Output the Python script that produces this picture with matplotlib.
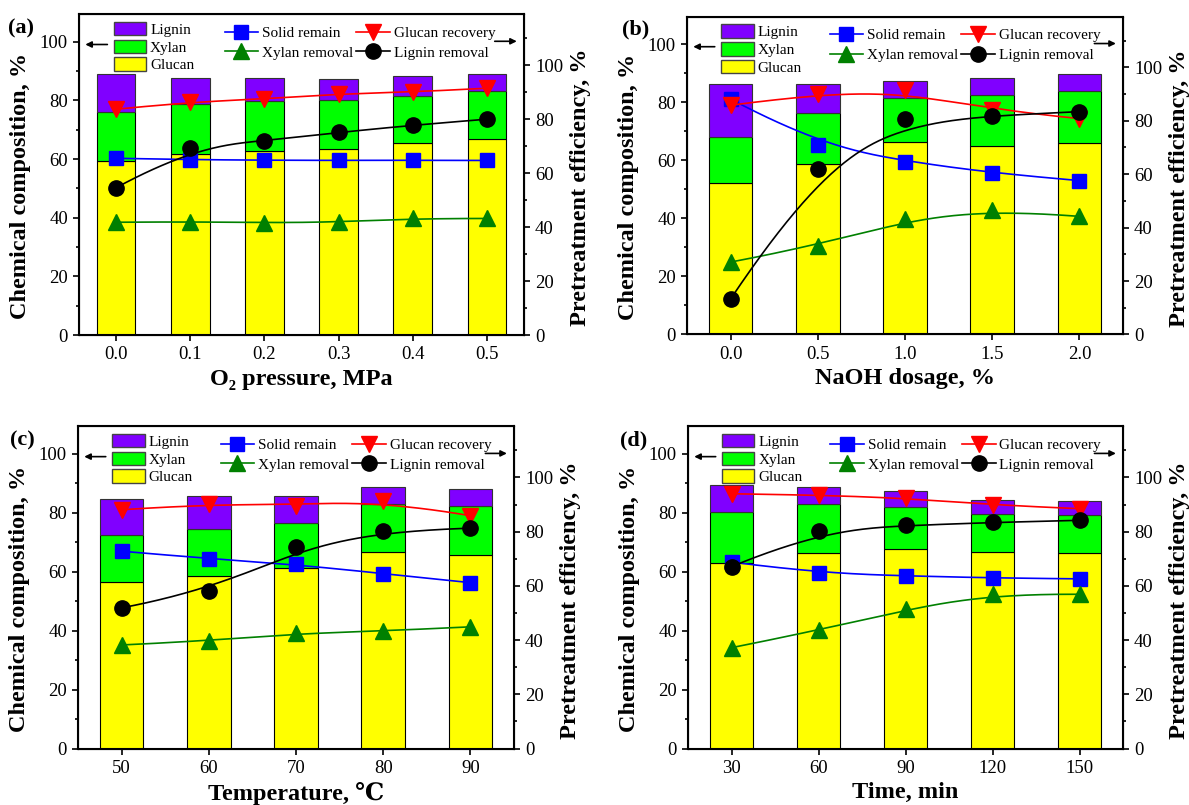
import numpy as np
import matplotlib.pyplot as plt
from matplotlib.lines import Line2D
from matplotlib.patches import Patch
from matplotlib.ticker import AutoMinorLocator

plt.rcParams['font.family'] = ['Liberation Serif', 'DejaVu Serif', 'DejaVu Sans']

# ---- data ----
# (a) O2 pressure
a_ticks = ['0.0', '0.1', '0.2', '0.3', '0.4', '0.5']
a_glucan = [59.4, 61.9, 62.6, 63.3, 65.4, 66.7]
a_xylan = [16.7, 16.9, 17.1, 16.9, 16.2, 16.6]
a_lignin = [12.9, 8.9, 8.0, 7.1, 6.6, 5.7]
a_solid = [65.5, 65.0, 64.8, 64.7, 64.8, 64.7]
a_glu_rec = [83.7, 86.4, 87.4, 89.5, 90.0, 91.5]
a_xyl_rem = [41.8, 42.0, 41.6, 41.8, 43.2, 43.2]
a_lig_rem = [54.6, 69.4, 72.0, 75.1, 77.8, 80.0]

# (b) NaOH dosage
b_ticks = ['0.0', '0.5', '1.0', '1.5', '2.0']
b_glucan = [52.3, 58.6, 66.3, 64.8, 65.9]
b_xylan = [15.6, 17.5, 15.2, 17.7, 18.1]
b_lignin = [18.5, 10.3, 5.9, 5.9, 5.7]
b_solid = [88.1, 70.9, 64.7, 60.4, 57.6]
b_glu_rec = [85.8, 90.0, 91.6, 84.0, 80.8]
b_xyl_rem = [27.1, 33.3, 43.3, 46.7, 44.2]
b_lig_rem = [13.3, 61.9, 80.6, 81.8, 83.4]

# (c) temperature
c_ticks = ['50', '60', '70', '80', '90']
c_glucan = [56.5, 58.5, 61.2, 66.6, 65.7]
c_xylan = [16.0, 16.1, 15.5, 16.4, 16.8]
c_lignin = [12.3, 11.1, 9.0, 5.7, 5.7]
c_solid = [72.8, 70.0, 68.1, 64.5, 61.2]
c_glu_rec = [88.1, 90.2, 89.6, 91.4, 85.9]
c_xyl_rem = [38.2, 39.7, 42.7, 43.3, 44.9]
c_lig_rem = [51.9, 58.0, 74.3, 80.2, 81.3]

# (d) time
d_ticks = ['30', '60', '90', '120', '150']
d_glucan = [63.1, 66.5, 67.8, 66.7, 66.4]
d_xylan = [17.2, 16.4, 14.3, 12.8, 13.0]
d_lignin = [9.0, 5.8, 5.4, 4.9, 4.8]
d_solid = [68.8, 64.7, 63.7, 62.9, 62.6]
d_glu_rec = [94.0, 93.5, 92.6, 89.8, 88.5]
d_xyl_rem = [37.2, 43.6, 51.4, 57.1, 56.9]
d_lig_rem = [67.1, 80.3, 82.4, 83.4, 84.2]


def bspline(xs, ys, k=3, n=200):
    # clamped cubic B-spline with the points as control polygon (like Origin's B-spline line)
    xs = np.asarray(xs, float)
    ys = np.asarray(ys, float)
    m = len(xs)
    knots = np.r_[np.zeros(k), np.linspace(0, 1, m - k + 1), np.ones(k)]
    t = np.linspace(0, 1, n)
    B = np.zeros((n, len(knots) - 1))
    for i in range(len(knots) - 1):
        B[:, i] = (t >= knots[i]) & (t < knots[i + 1])
    B[t >= 1, m - 1] = 1
    for d in range(1, k + 1):
        Bn = np.zeros((n, len(knots) - 1 - d))
        for i in range(len(knots) - 1 - d):
            left = knots[i + d] - knots[i]
            right = knots[i + d + 1] - knots[i + 1]
            term = np.zeros(n)
            if left > 0:
                term += (t - knots[i]) / left * B[:, i]
            if right > 0:
                term += (knots[i + d + 1] - t) / right * B[:, i + 1]
            Bn[:, i] = term
        B = Bn
    return B @ xs, B @ ys


W, H = 1189, 805


def box(l, r, t, b):
    return [l / W, 1 - b / H, (r - l) / W, (b - t) / H]


series_style = [
    ('Solid remain', 'blue', 's', 10),
    ('Xylan removal', 'green', '^', 12),
    ('Glucan recovery', 'red', 'v', 12),
    ('Lignin removal', 'black', 'o', 11),
]


def draw_panel(pos, ticks, glucan, xylan, lignin, solid, xyl_rem, glu_rec, lig_rem,
               xlabel, width=0.5):
    ax = fig.add_axes(pos)
    x = np.arange(len(ticks))
    glucan = np.array(glucan)
    xylan = np.array(xylan)
    ax.bar(x, glucan, width, color='#FFFF00', edgecolor='black', lw=0.8)
    ax.bar(x, xylan, width, bottom=glucan, color='#00FF00', edgecolor='black', lw=0.8)
    ax.bar(x, lignin, width, bottom=glucan + xylan, color='#8000FF', edgecolor='#333333', lw=0.8)
    ax.set_xlim(-0.5, len(ticks) - 0.5)
    ax.set_ylim(0, 109.5)
    ax.set_xticks(x)
    ax.set_xticklabels(ticks)
    ax.set_yticks(range(0, 101, 20))
    ax.yaxis.set_minor_locator(AutoMinorLocator(2))
    ax.tick_params(axis='both', which='major', labelsize=13.5, length=4.5, width=1.2, direction='out')
    ax.tick_params(axis='y', which='minor', length=2.5, width=1.2, direction='out')
    ax.tick_params(axis='x', which='minor', bottom=False)
    for s in ax.spines.values():
        s.set_linewidth(1.5)
    ax.set_ylabel('Chemical composition, %', fontsize=17.5, fontweight='bold')
    ax.yaxis.set_label_coords(-48 / (pos[2] * W), 0.465)
    ax.set_xlabel(xlabel, fontsize=17.5, fontweight='bold', labelpad=4)

    ax2 = ax.twinx()
    ax2.set_ylim(0, 119)
    ax2.set_yticks(range(0, 101, 20))
    ax2.yaxis.set_minor_locator(AutoMinorLocator(2))
    ax2.tick_params(axis='y', which='major', labelsize=13.5, length=4.5, width=1.2, direction='out')
    ax2.tick_params(axis='y', which='minor', length=2.5, width=1.2, direction='out')
    ax2.set_ylabel('Pretreatment efficiency, %', fontsize=17.5, fontweight='bold')
    ax2.yaxis.set_label_coords(1 + 46 / (pos[2] * W), 0.46)

    handles = []
    for (name, c, m, ms), vals in zip(series_style, [solid, xyl_rem, glu_rec, lig_rem]):
        sx, sy = bspline(x, vals)
        ax2.plot(sx, sy, color=c, lw=1.2)
        ax2.plot(x, vals, ls='none', marker=m, ms=ms, color=c)
        handles.append(Line2D([], [], color=c, lw=1.2, marker=m, ms=ms, label=name))

    bar_handles = [Patch(facecolor='#8000FF', edgecolor='#444444', label='Lignin'),
                   Patch(facecolor='#00FF00', edgecolor='#444444', label='Xylan'),
                   Patch(facecolor='#FFFF00', edgecolor='#444444', label='Glucan')]
    leg1 = ax2.legend(handles=bar_handles, loc='upper left', bbox_to_anchor=(0.079, 0.976),
                      frameon=False, fontsize=11, handlelength=2.1, handleheight=1.0,
                      labelspacing=0.18, handletextpad=0.25, borderpad=0, borderaxespad=0)
    ax2.add_artist(leg1)
    ax2.legend(handles=handles, ncol=2, loc='upper left', bbox_to_anchor=(0.327, 0.962),
               frameon=False, fontsize=11, handlelength=2.2, handletextpad=0.25,
               columnspacing=0.2, labelspacing=0.4, borderpad=0, borderaxespad=0)

    arrow = dict(arrowstyle='-|>', color='black', lw=1.2, mutation_scale=9)
    ax2.annotate('', xy=(0.008, 0.905), xytext=(0.07, 0.905), xycoords='axes fraction',
                 textcoords='axes fraction', arrowprops=arrow)
    ax2.annotate('', xy=(0.99, 0.915), xytext=(0.928, 0.915), xycoords='axes fraction',
                 textcoords='axes fraction', arrowprops=arrow)
    return ax, ax2


fig = plt.figure(figsize=(W / 100, H / 100), dpi=100)

draw_panel(box(79, 524, 14, 335), a_ticks, a_glucan, a_xylan, a_lignin,
           a_solid, a_xyl_rem, a_glu_rec, a_lig_rem, 'O₂ pressure, MPa', width=0.52)
draw_panel(box(687, 1123, 16.5, 334.5), b_ticks, b_glucan, b_xylan, b_lignin,
           b_solid, b_xyl_rem, b_glu_rec, b_lig_rem, 'NaOH dosage, %')
draw_panel(box(78, 514, 426, 748.5), c_ticks, c_glucan, c_xylan, c_lignin,
           c_solid, c_xyl_rem, c_glu_rec, c_lig_rem, 'Temperature, ℃')
draw_panel(box(688, 1123, 426, 748.5), d_ticks, d_glucan, d_xylan, d_lignin,
           d_solid, d_xyl_rem, d_glu_rec, d_lig_rem, 'Time, min')

for lab, px, py in [('(a)', 8, 28), ('(b)', 622, 29), ('(c)', 10, 440), ('(d)', 620, 440)]:
    fig.text(px / W, 1 - py / H, lab, fontsize=16, fontweight='bold', va='center', ha='left')

fig.savefig('out.png', dpi=100)
